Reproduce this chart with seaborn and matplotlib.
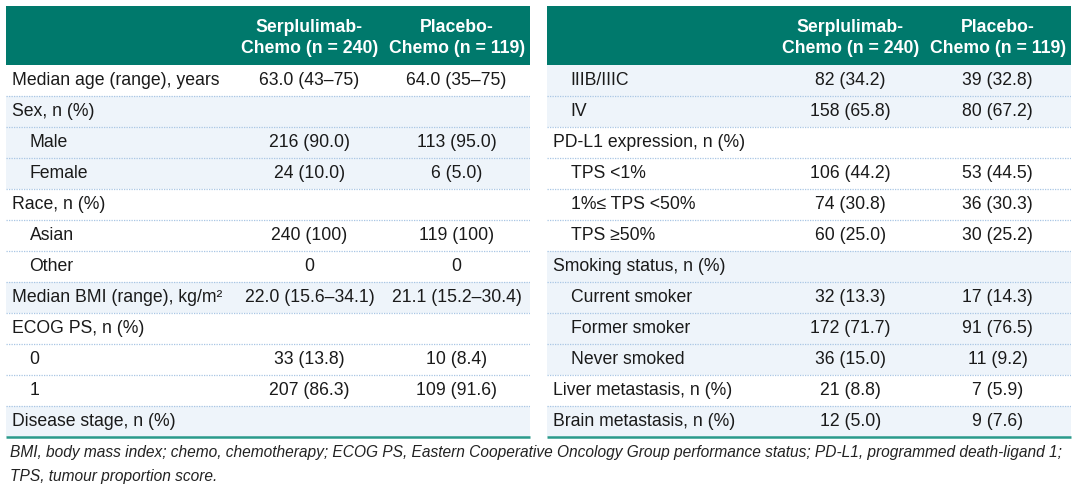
import numpy as np
import matplotlib
matplotlib.use("Agg")
import matplotlib.pyplot as plt
import seaborn as sns
from matplotlib.colors import ListedColormap

# table content
header_serp = "Serplulimab-\nChemo (n = 240)"
header_plac = "Placebo-\nChemo (n = 119)"

left_labels = ["Median age (range), years", "Sex, n (%)", "Male", "Female", "Race, n (%)",
               "Asian", "Other", "Median BMI (range), kg/m²", "ECOG PS, n (%)", "0", "1",
               "Disease stage, n (%)"]
left_indent = [0, 0, 1, 1, 0, 1, 1, 0, 0, 1, 1, 0]
left_serp = ["63.0 (43–75)", "", "216 (90.0)", "24 (10.0)", "", "240 (100)", "0",
             "22.0 (15.6–34.1)", "", "33 (13.8)", "207 (86.3)", ""]
left_plac = ["64.0 (35–75)", "", "113 (95.0)", "6 (5.0)", "", "119 (100)", "0",
             "21.1 (15.2–30.4)", "", "10 (8.4)", "109 (91.6)", ""]
left_shade = [0, 1, 1, 1, 0, 0, 0, 1, 0, 0, 0, 1]

right_labels = ["IIIB/IIIC", "IV", "PD-L1 expression, n (%)", "TPS <1%", "1%≤ TPS <50%",
                "TPS ≥50%", "Smoking status, n (%)", "Current smoker", "Former smoker",
                "Never smoked", "Liver metastasis, n (%)", "Brain metastasis, n (%)"]
right_indent = [1, 1, 0, 1, 1, 1, 0, 1, 1, 1, 0, 0]
right_serp = ["82 (34.2)", "158 (65.8)", "", "106 (44.2)", "74 (30.8)", "60 (25.0)", "",
              "32 (13.3)", "172 (71.7)", "36 (15.0)", "21 (8.8)", "12 (5.0)"]
right_plac = ["39 (32.8)", "80 (67.2)", "", "53 (44.5)", "36 (30.3)", "30 (25.2)", "",
              "17 (14.3)", "91 (76.5)", "11 (9.2)", "7 (5.9)", "9 (7.6)"]
right_shade = [1, 1, 0, 0, 0, 0, 1, 1, 1, 1, 0, 1]

footnote = ["BMI, body mass index; chemo, chemotherapy; ECOG PS, Eastern Cooperative Oncology Group performance status; PD-L1, programmed death-ligand 1;",
            "TPS, tumour proportion score."]

sns.set_style("white")
plt.rcParams['font.family'] = ['Liberation Sans', 'DejaVu Sans']

TEAL = "#00796c"
BAND = "#eef4fa"
TXT = "#1a1a1a"
FS = 12.7

W, H = 1080, 491
fig = plt.figure(figsize=(W / 100, H / 100), dpi=100)


def px_axes(x0, y0, x1, y1):
    # pixel box (top-left origin) -> figure axes
    return fig.add_axes([x0 / W, (H - y1) / H, (x1 - x0) / W, (y1 - y0) / H])


def draw_table(x0, labels, indent, serp, plac, shade):
    x1 = x0 + 524
    # header
    hax = px_axes(x0, 6, x1, 65)
    hax.set_facecolor(TEAL)
    hax.set_xticks([])
    hax.set_yticks([])
    for s in hax.spines.values():
        s.set_visible(False)
    for xc, txt in [(0.579, header_serp), (0.86, header_plac)]:
        hax.text(xc, 0.46, txt, ha="center", va="center", color="white",
                 fontsize=FS, fontweight="bold", linespacing=1.35, transform=hax.transAxes)

    # body: banding drawn as a one-column heatmap
    ax = px_axes(x0, 65, x1, 437)
    sns.heatmap(np.array(shade).reshape(-1, 1), ax=ax, cmap=ListedColormap(["white", BAND]),
                vmin=0, vmax=1, cbar=False, xticklabels=False, yticklabels=False)
    n = len(labels)
    ax.hlines(np.arange(1, n), 0, 1, colors="#a9c6e4", linestyles=(0, (1, 1)), lw=0.9)
    ax.hlines(n, 0, 1, colors="#2a9a8b", lw=1.8, clip_on=False)
    for i in range(n):
        y = i + 0.5
        ax.text(0.045 if indent[i] else 0.012, y, labels[i], ha="left", va="center",
                fontsize=FS, color=TXT)
        ax.text(0.579, y, serp[i], ha="center", va="center", fontsize=FS, color=TXT)
        ax.text(0.86, y, plac[i], ha="center", va="center", fontsize=FS, color=TXT)


draw_table(6, left_labels, left_indent, left_serp, left_plac, left_shade)
draw_table(547, right_labels, right_indent, right_serp, right_plac, right_shade)

for k, line in enumerate(footnote):
    fig.text(10 / W, 1 - (453 + 24 * k) / H, line, ha="left", va="center",
             fontsize=11.2, style="italic", color="#222222")

fig.savefig("out.png", dpi=100)
